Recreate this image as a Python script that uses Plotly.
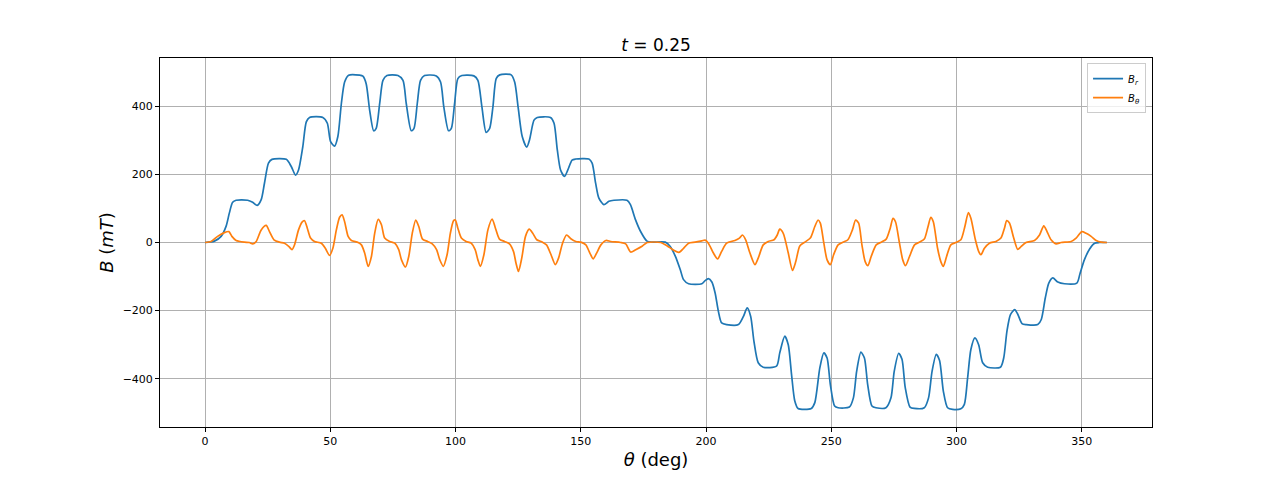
import plotly.graph_objects as go

# Angles (deg) and values (mT)
br_theta = [0, 3.7, 6.4, 8.4, 9.7, 11, 12.4, 17, 19, 20.8,
            22.4, 23.7, 25.3, 26.7, 32.4, 34.4, 36.1, 37.3, 39, 40.4,
            41.7, 47, 48.8, 50.1, 51.7, 53, 54.4, 55.7, 57.3, 61.7,
            63, 64.3, 65.7, 67.3, 68.3, 69.7, 71, 72.6, 77, 79,
            80.3, 82.3, 83.4, 84.7, 86, 87.6, 92.3, 94, 95.3, 97.2,
            98.3, 99.6, 100.9, 102.5, 107.3, 108.9, 110.5, 112.2, 113.6, 114.9,
            116.2, 117.6, 122.2, 123.6, 125.0, 126.6, 128.4, 129.5, 131.3, 132.6,
            137.9, 139.3, 140.6, 141.9, 143.5, 144.8, 146.5, 147.9, 153.2, 154.5,
            155.9, 157.2, 159.2, 161.2, 163.2, 168.4, 169.8, 171.8, 173.8, 176.4,
            178.4, 183.7, 185.6, 187.7, 189.7, 191, 193, 198.3, 199.6, 200.9,
            202.3, 203.6, 204.9, 206.2, 208.2, 212.9, 214.9, 216.4, 217.8, 219.1,
            220.8, 222.8, 228.1, 229.4, 231.4, 232.8, 234.1, 235.4, 236.7, 242,
            243.4, 245.4, 247, 248.3, 249.6, 251.3, 252.7, 257.2, 258.8, 260.1,
            261.8, 263.2, 264.5, 266.2, 267.8, 271.8, 273.8, 275.1, 276.9, 278.2,
            279.5, 281.4, 283.1, 287.1, 288.8, 290.2, 291.9, 293.2, 294.7, 296.4,
            298.4, 301.7, 303.1, 304.4, 305.7, 307.3, 308.8, 310.4, 312.4, 317.5,
            318.8, 320.1, 321.5, 323.2, 324.5, 326.1, 327.8, 332.4, 333.8, 335.4,
            336.8, 338.4, 340.4, 343.1, 348, 349.3, 351, 353.1, 355.1, 357,
            360]
br_values = [0, 4, 18, 48, 87, 118, 124, 124, 118, 109,
             126, 174, 233, 244, 244, 223, 198, 213, 281, 354,
             367, 367, 350, 296, 283, 311, 408, 471, 491, 491,
             488, 466, 388, 328, 335, 408, 476, 490, 490, 476,
             408, 328, 335, 408, 476, 490, 489, 471, 398, 328,
             335, 408, 481, 490, 489, 476, 398, 323, 335, 398,
             481, 492, 492, 470, 395, 311, 280, 301, 359, 367,
             367, 350, 272, 213, 194, 213, 242, 245, 245, 233,
             174, 130, 111, 121, 124, 124, 111, 67, 33, 4,
             1, 1, -11, -40, -80, -109, -121, -121, -112, -106,
             -116, -148, -202, -236, -241, -241, -217, -192, -217, -290,
             -353, -366, -363, -324, -275, -300, -387, -465, -487, -487,
             -470, -368, -324, -339, -417, -480, -485, -483, -456, -378,
             -322, -339, -417, -480, -485, -485, -456, -378, -325, -343,
             -426, -483, -487, -485, -456, -378, -328, -346, -436, -485,
             -490, -488, -475, -397, -314, -280, -300, -353, -366, -366,
             -339, -260, -212, -197, -212, -238, -241, -241, -226, -163,
             -119, -104, -116, -121, -119, -90, -51, -19, -2, 0,
             0]

bt_theta = [0, 2.4, 5, 7.7, 9.5, 10.7, 12.4, 15.7, 17.7, 19,
            20.4, 22.4, 24.4, 25.7, 27.5, 29.7, 31.7, 33.5, 34.7, 35.7,
            37.3, 38.7, 39.7, 40.8, 42.1, 43.7, 46.4, 48, 49.7, 51,
            52.4, 53.7, 54.7, 55.7, 57.1, 58.4, 61.1, 62.4, 63.7, 65.1,
            66.4, 67.7, 69.1, 70.4, 71.7, 73.7, 75.7, 77.3, 78.4, 80,
            81.3, 82.7, 84.1, 85.3, 86.8, 88.8, 90.7, 92.4, 93.7, 95.1,
            96.6, 97.9, 99.2, 99.9, 100.9, 102.3, 104.2, 106.2, 107.8, 108.9,
            109.9, 111.3, 112.9, 114.6, 115.9, 117.5, 119.5, 121.5, 123.1, 124.1,
            125.1, 126.4, 127.9, 129.4, 130.8, 132.4, 134.7, 136.3, 138.1, 139.8,
            141.1, 142.7, 144.3, 146, 148, 150, 152, 153.6, 154.9, 156.3,
            158, 160, 161.9, 165.9, 167.9, 169.9, 171.9, 174.6, 176.5, 181.9,
            184.5, 187.1, 189.1, 191, 193, 195.6, 198.3, 199.6, 200.9, 202.9,
            204.6, 206.2, 208.2, 211.5, 213.3, 214.5, 215.8, 217.5, 219.5, 220.8,
            222.8, 224.8, 227.1, 228.4, 229.4, 230.8, 232.8, 234.5, 235.8, 237.4,
            239.4, 241.6, 243.4, 244.7, 245.6, 247, 248.3, 249.6, 250.9, 252.7,
            254.6, 256.6, 258.4, 259.7, 260.9, 262.2, 263.5, 264.6, 265.9, 267.9,
            269.9, 271.9, 273.5, 274.6, 275.6, 277.2, 278.5, 279.6, 281.2, 283.2,
            285.1, 287.1, 288.6, 289.7, 290.7, 292.4, 293.7, 294.7, 296, 297.7,
            299.7, 301.7, 303.3, 304.7, 305.7, 307.5, 308.8, 309.7, 311.1, 313.1,
            315.7, 317.7, 319.1, 320, 321.1, 322.8, 324.4, 325.7, 327.7, 331.1,
            333.1, 334.8, 336.1, 337.7, 339.7, 341.7, 345.7, 347.7, 350, 351.7,
            353.7, 355.7, 357.7, 360]
bt_values = [0, 3, 18, 29, 32, 18, 6, 1, 0, -4,
             3, 37, 50, 32, 8, 1, -2, -12, -21, -7,
             37, 60, 64, 42, 13, 3, -2, -17, -38, -17,
             37, 74, 81, 61, 18, 6, 0, -7, -31, -70,
             -41, 27, 68, 52, 13, 3, -2, -21, -51, -72,
             -41, 27, 66, 47, 10, 3, -4, -21, -51, -70,
             -36, 27, 64, 66, 42, 13, 3, -2, -21, -51,
             -70, -36, 37, 69, 42, 10, 3, -4, -26, -60,
             -85, -46, 18, 39, 27, 8, 1, -7, -36, -65,
             -46, -2, 22, 11, 3, 1, -7, -31, -48, -31,
             -7, 6, 3, 0, -4, -28, -21, -10, 0, 0,
             -10, -23, -29, -17, -2, 1, 5, 7, -2, -31,
             -48, -26, -2, 6, 13, 22, 8, -31, -65, -46,
             -7, 3, 8, 22, 39, 27, -31, -82, -56, -10,
             1, 13, 47, 66, 57, -2, -51, -65, -36, -7,
             1, 8, 37, 66, 57, -7, -56, -68, -41, -7,
             1, 10, 42, 71, 61, -2, -51, -68, -41, -7,
             1, 10, 47, 74, 61, -17, -56, -70, -41, -7,
             0, 8, 47, 88, 71, 8, -26, -36, -17, -2,
             3, 13, 42, 64, 57, 13, -20, -12, 0, 6,
             22, 49, 32, 8, -4, 0, 3, 13, 32, 27,
             18, 6, 1, 0]

x_ticks = [0, 50, 100, 150, 200, 250, 300, 350]
y_ticks = [-400, -200, 0, 200, 400]

FONT = "DejaVu Sans"

fig = go.Figure()
fig.add_trace(go.Scatter(x=br_theta, y=br_values, mode="lines",
                         name="<i>B<sub>r</sub></i>",
                         line=dict(color="#1f77b4", width=1.7, shape="spline", smoothing=0.7)))
fig.add_trace(go.Scatter(x=bt_theta, y=bt_values, mode="lines",
                         name="<i>B<sub>θ</sub></i>",
                         line=dict(color="#ff7f0e", width=1.7, shape="spline", smoothing=0.7)))

axis_common = dict(showgrid=True, gridcolor="#b0b0b0", gridwidth=0.9,
                   zeroline=False, showline=True, linecolor="black", linewidth=0.9,
                   mirror=True, ticks="outside", ticklen=4, tickwidth=0.9,
                   tickcolor="black", tickfont=dict(family=FONT, size=11, color="black"),
                   automargin=False)

fig.update_layout(
    width=1280, height=480,
    margin=dict(l=160, r=128, t=58, b=53),
    paper_bgcolor="white", plot_bgcolor="white",
    font=dict(family=FONT, color="black"),
    title=dict(text="<i>t</i> = 0.25", x=0.5, xref="paper", xanchor="center",
               y=1 - 45 / 480, yanchor="middle",
               font=dict(family=FONT, size=17, color="black")),
    xaxis=dict(range=[-18, 378], tickvals=x_ticks,
               title=dict(text="<i>θ</i> (deg)", font=dict(family=FONT, size=18), standoff=6),
               **axis_common),
    yaxis=dict(range=[-541.5, 541.5], tickvals=y_ticks,
               title=dict(text="<i>B</i> (<i>mT</i>)", font=dict(family=FONT, size=18), standoff=4),
               **axis_common),
    legend=dict(x=0.994, xanchor="right", y=0.986, yanchor="top",
                bgcolor="rgba(255,255,255,0.8)", bordercolor="#cccccc", borderwidth=1,
                font=dict(family=FONT, size=10, color="black"),
                itemwidth=30, tracegroupgap=0),
    showlegend=True,
)

fig.write_html("out.html")
